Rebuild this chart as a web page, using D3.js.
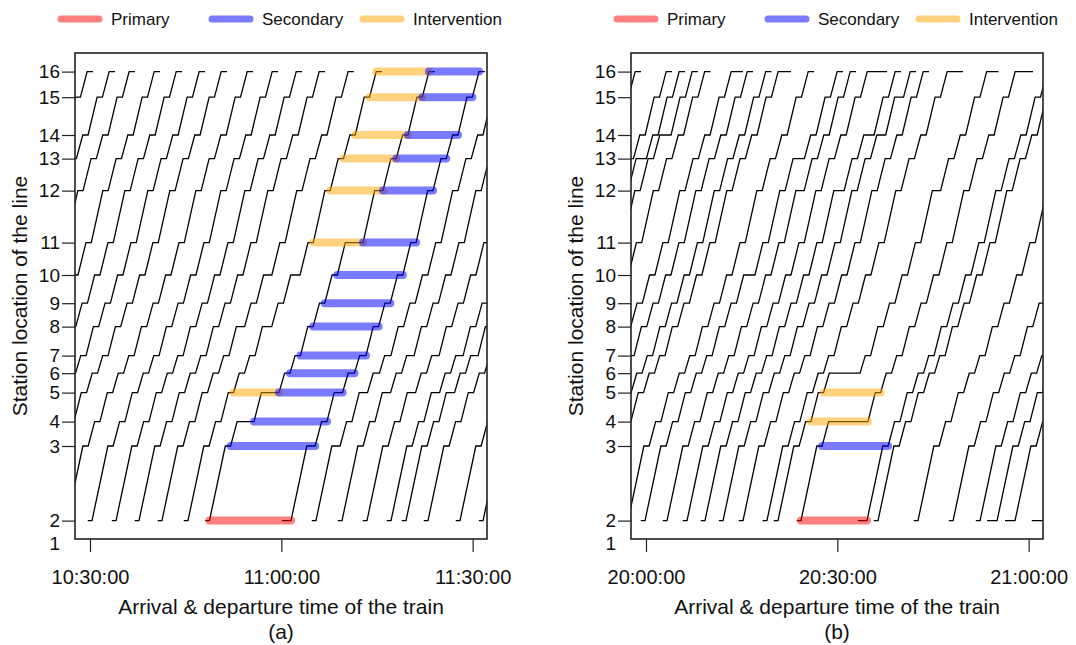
<!DOCTYPE html>
<html>
<head>
<meta charset="utf-8">
<script src="https://cdn.jsdelivr.net/npm/d3@7"></script>
<style>
body { margin: 0; background: #fff; }
text { font-family: "Liberation Sans", Arial, sans-serif; }
</style>
</head>
<body>
<svg id="chart" width="1076" height="645"></svg>
<script>
// stations and their location along the line (km)
var stations = [1, 2, 3, 4, 5, 6, 7, 8, 9, 10, 11, 12, 13, 14, 15, 16];
var stationKm = [0, 1.12, 4.85, 6.07, 7.52, 8.49, 9.37, 10.82, 11.99, 13.40, 15.02, 17.62, 19.22, 20.40, 22.29, 23.57];
// running time of each section 2->3 ... 15->16 (s)
var runSec = [149, 61, 69, 53, 49, 69, 60, 68, 75, 109, 75, 60, 85, 63];
var dwellSec = 50, firstDwellSec = 40, lastDwellSec = 55;

// (a) departure from station 2 of every train
var departA = ["10:01:18", "10:04:45", "10:07:53", "10:11:49", "10:15:16", "10:18:52", "10:22:19", "10:26:24",
    "10:30:19", "10:34:05", "10:37:41", "10:41:17", "10:45:22", "10:48:44", "11:01:31", "11:05:26",
    "11:09:31", "11:13:26", "11:17:12", "11:19:33", "11:23:00", "11:28:01", "11:31:38"];
// extra dwell: [train, station, seconds]
var holdA = [[11, 8, 28], [11, 10, 28], [12, 8, 38], [12, 10, 38],
    [13, 4, 109], [13, 5, 116], [13, 11, 117], [13, 12, 28],
    [14, 2, 45], [14, 3, 28], [14, 5, 28], [14, 6, 9], [14, 7, 9],
    [15, 3, 28], [15, 5, 28], [15, 6, 9], [15, 7, 9],
    [16, 5, 28], [16, 7, 19], [17, 5, 28], [17, 7, 19], [18, 5, 28], [18, 7, 19], [19, 5, 28], [19, 7, 19]];
// gaps: [station, train before, train after, kind]
var barsA = [[2, 13, 14, 0], [3, 13, 14, 1], [4, 13, 14, 1], [5, 12, 13, 2], [5, 13, 14, 1], [6, 13, 14, 1],
    [7, 13, 14, 1], [8, 13, 14, 1], [9, 13, 14, 1], [10, 13, 14, 1], [11, 12, 13, 2], [11, 13, 14, 1],
    [12, 12, 13, 2], [12, 13, 14, 1], [13, 12, 13, 2], [13, 13, 14, 1], [14, 12, 13, 2], [14, 13, 14, 1],
    [15, 12, 13, 2], [15, 13, 14, 1], [16, 12, 13, 2], [16, 13, 14, 1]];

// (b)
var departB = ["19:30:03", "19:34:55", "19:36:10", "19:38:03", "19:40:57", "19:45:06", "19:47:37", "19:50:31",
    "19:52:28", "19:57:11", "19:59:51", "20:03:18", "20:06:26", "20:09:15", "20:12:05", "20:15:13",
    "20:18:58", "20:20:42", "20:24:18", "20:34:39", "20:36:23", "20:42:39", "20:48:09", "20:52:23",
    "20:55:03", "20:57:52", "21:02:44"];
var holdB = [[2, 13, 47], [3, 14, 56], [5, 16, 56], [8, 16, 66], [10, 10, 56], [10, 13, 56], [11, 12, 28],
    [12, 16, 132], [13, 12, 47], [13, 14, 47], [14, 14, 33], [14, 15, 33], [16, 16, 94], [17, 6, 240],
    [17, 12, 28], [17, 16, 56], [18, 4, 320], [18, 16, 113], [19, 2, 45], [24, 2, 54], [25, 2, 54], [26, 2, 95]];
var barsB = [[2, 18, 19, 0], [3, 18, 19, 1], [4, 17, 18, 2], [5, 17, 18, 2]];

var kinds = ["Primary", "Secondary", "Intervention"];
var kindColor = ["rgba(255,0,0,0.5)", "rgba(0,0,255,0.52)", "rgba(255,165,0,0.5)"];

var parse = d3.timeParse("%H:%M:%S");
var svg = d3.select("#chart");
var plotTop = 53, plotBottom = 539;

var y = d3.scaleLinear().domain([0.2, 24.5]).range([plotBottom, plotTop]);

function addSec(d, s) { return new Date(d.getTime() + s * 1000); }

function extra(holds, i, st) {
    return d3.sum(holds.filter(function (h) { return h[0] === i && h[1] === st; }), function (h) { return h[2]; });
}

// builds point list [time, station] and the departure time per station
function timetable(depart, holds) {
    return depart.map(function (d, i) {
        var t = parse(d);
        var pts = [[addSec(t, -(firstDwellSec + extra(holds, i, 2))), 2], [t, 2]];
        var dep = {2: t};
        for (var k = 0; k < runSec.length; k++) {
            var st = k + 3;
            t = addSec(t, runSec[k]);
            pts.push([t, st]);
            if (st < 16) {
                t = addSec(t, dwellSec + extra(holds, i, st));
                dep[st] = t;
            } else {
                dep[st] = t;
                t = addSec(t, lastDwellSec + extra(holds, i, st));
            }
            pts.push([t, st]);
        }
        return {pts: pts, dep: dep};
    });
}

function drawPanel(id, left, right, domain, ticks, depart, holds, bars, tag) {
    var x = d3.scaleTime().domain([parse(domain[0]), parse(domain[1])]).range([left, right]);
    var trains = timetable(depart, holds);

    svg.append("clipPath").attr("id", "clip" + id)
        .append("rect")
        .attr("x", left).attr("y", plotTop)
        .attr("width", right - left).attr("height", plotBottom - plotTop);

    var plot = svg.append("g").attr("clip-path", "url(#clip" + id + ")");

    var line = d3.line()
        .x(function (p) { return x(p[0]); })
        .y(function (p) { return y(stationKm[p[1] - 1]); });

    plot.selectAll("path.train")
        .data(trains)
        .enter().append("path")
        .attr("class", "train")
        .attr("d", function (d) { return line(d.pts); })
        .attr("fill", "none")
        .attr("stroke", "#000")
        .attr("stroke-width", 1.3);

    plot.selectAll("line.gap")
        .data(bars)
        .enter().append("line")
        .attr("class", "gap")
        .attr("x1", function (b) { return x(trains[b[1]].dep[b[0]]); })
        .attr("x2", function (b) { return x(trains[b[2]].dep[b[0]]); })
        .attr("y1", function (b) { return y(stationKm[b[0] - 1]); })
        .attr("y2", function (b) { return y(stationKm[b[0] - 1]); })
        .attr("stroke", function (b) { return kindColor[b[3]]; })
        .attr("stroke-width", 8)
        .attr("stroke-linecap", "round");

    // frame
    svg.append("rect")
        .attr("x", left).attr("y", plotTop)
        .attr("width", right - left).attr("height", plotBottom - plotTop)
        .attr("fill", "none")
        .attr("stroke", "#222")
        .attr("stroke-width", 1.6);

    // x axis
    var xAxis = svg.append("g")
        .attr("transform", "translate(0," + plotBottom + ")")
        .call(d3.axisBottom(x)
            .tickValues(ticks.map(parse))
            .tickFormat(d3.timeFormat("%H:%M:%S"))
            .tickSize(13)
            .tickPadding(18));
    xAxis.select(".domain").remove();
    xAxis.selectAll("line").attr("stroke", "#222").attr("stroke-width", 1.2);
    xAxis.selectAll("text").attr("font-size", "20px").attr("fill", "#111")
        .style("font-family", "'Liberation Sans', Arial, sans-serif");

    // y axis
    var yAxis = svg.append("g")
        .attr("transform", "translate(" + left + ",0)")
        .call(d3.axisLeft(y)
            .tickValues(stationKm)
            .tickFormat(function (d, i) { return stations[i]; })
            .tickSize(13)
            .tickPadding(2));
    yAxis.select(".domain").remove();
    yAxis.selectAll("line").attr("stroke", "#222").attr("stroke-width", 1.2)
        .filter(function (d, i) { return i === 0; }).remove();
    yAxis.selectAll("text").attr("font-size", "19px").attr("fill", "#111")
        .style("font-family", "'Liberation Sans', Arial, sans-serif");

    var mid = (left + right) / 2;
    svg.append("text")
        .attr("x", mid).attr("y", 614)
        .attr("text-anchor", "middle")
        .style("font-size", "21px").attr("fill", "#111")
        .text("Arrival & departure time of the train");
    svg.append("text")
        .attr("x", mid).attr("y", 639)
        .attr("text-anchor", "middle")
        .style("font-size", "21px").attr("fill", "#111")
        .text(tag);
    svg.append("text")
        .attr("transform", "translate(" + (left - 48) + "," + ((plotTop + plotBottom) / 2) + ") rotate(-90)")
        .attr("text-anchor", "middle")
        .style("font-size", "21px").attr("fill", "#111")
        .text("Station location of the line");

    // legend
    var legX = [-14, 137, 288];
    var leg = svg.append("g");
    kinds.forEach(function (k, i) {
        leg.append("line")
            .attr("x1", left + legX[i]).attr("x2", left + legX[i] + 38)
            .attr("y1", 19).attr("y2", 19)
            .attr("stroke", kindColor[i])
            .attr("stroke-width", 7)
            .attr("stroke-linecap", "round");
        leg.append("text")
            .attr("x", left + legX[i] + 50).attr("y", 25)
            .style("font-size", "17px").attr("fill", "#111")
            .text(k);
    });
}

drawPanel("a", 75, 487, ["10:27:39", "11:32:15"], ["10:30:00", "11:00:00", "11:30:00"], departA, holdA, barsA, "(a)");
drawPanel("b", 631, 1043, ["19:57:39", "21:02:15"], ["20:00:00", "20:30:00", "21:00:00"], departB, holdB, barsB, "(b)");
</script>
</body>
</html>
